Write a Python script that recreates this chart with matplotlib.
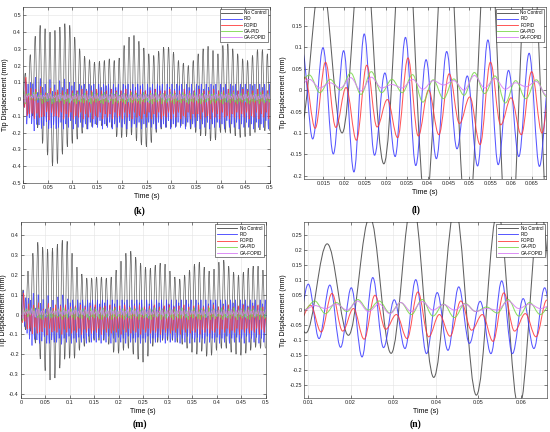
import numpy as np
import matplotlib
matplotlib.use('Agg')
from matplotlib import pyplot as plt
from matplotlib.path import Path
from matplotlib.patches import PathPatch
from matplotlib.lines import Line2D

plt.rcParams['font.family'] = ['Liberation Sans', 'DejaVu Sans']

labels = ['No Control', 'PID', 'FOPID', 'GA-PID', 'GA-FOPID']
colors = ['#444444', '#3a3aff', '#ff3a3a', '#7ad84a', '#d77cf5']

# ---------------- case 1 : panels (k) and (l) ----------------
# No Control: peaks at 0.0045 + 0.01*i, troughs at 0.0095 + 0.01*i
nc1_peak = [0.155, 0.265, 0.375, 0.44, 0.42, 0.40, 0.41, 0.43, 0.45, 0.44,
            0.37, 0.30, 0.255, 0.235, 0.22, 0.225, 0.23, 0.24, 0.23, 0.245,
            0.32, 0.37, 0.38, 0.345, 0.305, 0.27, 0.26, 0.285, 0.31, 0.31,
            0.28, 0.23, 0.215, 0.20, 0.23, 0.27, 0.30, 0.315, 0.29, 0.27,
            0.32, 0.33, 0.30, 0.27, 0.24, 0.23, 0.26, 0.295, 0.295, 0.27]
nc1_trough = [-0.09, -0.10, -0.172, -0.265, -0.335, -0.40, -0.385, -0.33, -0.285, -0.265,
              -0.24, -0.205, -0.18, -0.165, -0.155, -0.16, -0.16, -0.17, -0.225, -0.23,
              -0.225, -0.215, -0.25, -0.275, -0.285, -0.26, -0.20, -0.18, -0.17, -0.17,
              -0.165, -0.16, -0.165, -0.18, -0.20, -0.22, -0.22, -0.25, -0.245, -0.20,
              -0.20, -0.205, -0.22, -0.23, -0.225, -0.22, -0.20, -0.185, -0.19, -0.19]

pid1_peak = [0.0, 0.12, 0.09, 0.099, 0.092, 0.131, 0.040, 0.123, 0.071, 0.090,
             0.033, 0.117, 0.046, 0.086, 0.04,
             0.11, 0.07, 0.12, 0.06, 0.10, 0.08, 0.10, 0.05, 0.09, 0.08,
             0.09, 0.06, 0.09, 0.08, 0.09, 0.05, 0.09, 0.07, 0.09, 0.08,
             0.09, 0.06, 0.09, 0.07, 0.09, 0.05, 0.09, 0.08, 0.09, 0.06,
             0.09, 0.07, 0.09, 0.08, 0.09, 0.05, 0.09, 0.07, 0.09, 0.06,
             0.09, 0.08, 0.09, 0.05, 0.09, 0.07, 0.09, 0.06, 0.09, 0.08,
             0.09, 0.06, 0.09, 0.07, 0.09, 0.05, 0.09, 0.08, 0.09, 0.06,
             0.09, 0.07, 0.09, 0.08, 0.09, 0.05, 0.09, 0.07, 0.09, 0.06,
             0.09, 0.08, 0.09, 0.05, 0.09, 0.07, 0.09, 0.06, 0.09, 0.08,
             0.09, 0.06, 0.09, 0.07, 0.09, 0.05, 0.09, 0.08, 0.09, 0.06]
pid1_trough = [-0.05, -0.15, -0.114, -0.149, -0.191, -0.152, -0.155, -0.176, -0.16, -0.137,
               -0.177, -0.174, -0.155, -0.178,
               -0.17, -0.14, -0.18, -0.15, -0.17, -0.13, -0.18, -0.15, -0.17, -0.14,
               -0.17, -0.15, -0.18, -0.14, -0.17, -0.15, -0.17, -0.13, -0.18, -0.15,
               -0.17, -0.14, -0.18, -0.15, -0.17, -0.14, -0.17, -0.15, -0.18, -0.13,
               -0.17, -0.15, -0.17, -0.14, -0.18, -0.15, -0.17, -0.14, -0.17, -0.15,
               -0.18, -0.14, -0.17, -0.15, -0.17, -0.13, -0.18, -0.15, -0.17, -0.14,
               -0.17, -0.15, -0.18, -0.14, -0.17, -0.15, -0.17, -0.13, -0.18, -0.15,
               -0.17, -0.14, -0.18, -0.15, -0.17, -0.14, -0.17, -0.15, -0.18, -0.13,
               -0.17, -0.15, -0.17, -0.14, -0.18, -0.15, -0.17, -0.14, -0.17, -0.15,
               -0.18, -0.14, -0.17, -0.15, -0.17, -0.13, -0.18, -0.15, -0.17, -0.14]

fopid1_peak = [0.0, 0.13, 0.03, 0.065, 0.006, 0.058, -0.022, 0.075, 0.0, 0.038,
               -0.016, 0.065, -0.018, 0.043, 0.055,
               -0.01, 0.05, 0.00, 0.06, -0.02, 0.05, 0.01, 0.05, -0.01, 0.06,
               0.00, 0.05, -0.02, 0.05, 0.01, 0.06, -0.01, 0.05, 0.00, 0.05,
               -0.02, 0.06, 0.01, 0.05, -0.01, 0.05, 0.00, 0.06, -0.02, 0.05,
               0.01, 0.05, -0.01, 0.06, 0.00, 0.05, -0.02, 0.05, 0.01, 0.06,
               -0.01, 0.05, 0.00, 0.05, -0.02, 0.06, 0.01, 0.05, -0.01, 0.05,
               0.00, 0.06, -0.02, 0.05, 0.01, 0.05, -0.01, 0.06, 0.00, 0.05,
               -0.02, 0.05, 0.01, 0.06, -0.01, 0.05, 0.00, 0.05, -0.02, 0.06,
               0.01, 0.05, -0.01, 0.05, 0.00, 0.06, -0.02, 0.05, 0.01, 0.05,
               -0.01, 0.06, 0.00, 0.05, -0.02, 0.05, 0.01, 0.06, -0.01, 0.05]
fopid1_trough = [-0.05, -0.10, -0.089, -0.087, -0.117, -0.086, -0.111, -0.107, -0.104, -0.078,
                 -0.127, -0.081, -0.104, -0.10,
                 -0.11, -0.08, -0.12, -0.09, -0.11, -0.08, -0.12, -0.10, -0.11, -0.08,
                 -0.12, -0.09, -0.11, -0.08, -0.12, -0.10, -0.11, -0.08, -0.12, -0.09,
                 -0.11, -0.09, -0.12, -0.08, -0.11, -0.10, -0.12, -0.08, -0.11, -0.09,
                 -0.12, -0.08, -0.11, -0.10, -0.12, -0.09, -0.11, -0.08, -0.12, -0.09,
                 -0.11, -0.08, -0.12, -0.10, -0.11, -0.08, -0.12, -0.09, -0.11, -0.08,
                 -0.12, -0.10, -0.11, -0.08, -0.12, -0.09, -0.11, -0.09, -0.12, -0.08,
                 -0.11, -0.10, -0.12, -0.08, -0.11, -0.09, -0.12, -0.08, -0.11, -0.10,
                 -0.12, -0.09, -0.11, -0.08, -0.12, -0.09, -0.11, -0.08, -0.12, -0.10,
                 -0.11, -0.08, -0.12, -0.09, -0.11, -0.08, -0.12, -0.10, -0.11, -0.09]

gapid1_peak = [0.05, 0.03, 0.035, 0.025, 0.040, 0.043, 0.025, 0.036, 0.024, 0.026,
               0.041, 0.033, 0.022, 0.024,
               0.03, 0.035, 0.025, 0.04, 0.03, 0.025, 0.035, 0.03, 0.04, 0.025,
               0.03, 0.035, 0.03, 0.025, 0.04, 0.03, 0.035, 0.025, 0.03, 0.04,
               0.03, 0.025, 0.035, 0.03, 0.04, 0.025, 0.03, 0.035, 0.03, 0.025,
               0.04, 0.03, 0.035, 0.025, 0.03, 0.04, 0.03, 0.025, 0.035, 0.03,
               0.04, 0.025, 0.03, 0.035, 0.03, 0.025, 0.04, 0.03, 0.035, 0.025,
               0.03, 0.04, 0.03, 0.025, 0.035, 0.03, 0.04, 0.025, 0.03, 0.035,
               0.03, 0.025, 0.04, 0.03, 0.035, 0.025, 0.03, 0.04, 0.03, 0.025,
               0.035, 0.03, 0.04, 0.025, 0.03, 0.035, 0.03, 0.025, 0.04, 0.03,
               0.035, 0.025, 0.03, 0.04, 0.03, 0.025, 0.035, 0.03, 0.04, 0.025]
gapid1_trough = [-0.03, 0.02, -0.006, 0.0, -0.01, -0.006, -0.006, -0.028, -0.02, -0.012,
                 -0.008, -0.03, -0.02, -0.015,
                 -0.02, -0.01, -0.03, -0.015, -0.025, -0.01, -0.02, -0.03, -0.015, -0.02,
                 -0.025, -0.01, -0.02, -0.03, -0.015, -0.02, -0.01, -0.025, -0.03, -0.015,
                 -0.02, -0.01, -0.03, -0.015, -0.025, -0.01, -0.02, -0.03, -0.015, -0.02,
                 -0.025, -0.01, -0.02, -0.03, -0.015, -0.02, -0.01, -0.025, -0.03, -0.015,
                 -0.02, -0.01, -0.03, -0.015, -0.025, -0.01, -0.02, -0.03, -0.015, -0.02,
                 -0.025, -0.01, -0.02, -0.03, -0.015, -0.02, -0.01, -0.025, -0.03, -0.015,
                 -0.02, -0.01, -0.03, -0.015, -0.025, -0.01, -0.02, -0.03, -0.015, -0.02,
                 -0.025, -0.01, -0.02, -0.03, -0.015, -0.02, -0.01, -0.025, -0.03, -0.015,
                 -0.02, -0.01, -0.03, -0.015, -0.025, -0.01, -0.02, -0.03, -0.015, -0.02]

gafopid1_peak = [0.03, 0.02, 0.025, 0.017, 0.029, 0.030, 0.013, 0.025, 0.022, 0.022,
                 0.034, 0.027, 0.017, 0.02,
                 0.025, 0.03, 0.02, 0.028, 0.022, 0.03, 0.018, 0.025, 0.03, 0.02,
                 0.028, 0.022, 0.03, 0.025, 0.018, 0.03, 0.022, 0.028, 0.02, 0.025,
                 0.03, 0.02, 0.028, 0.022, 0.03, 0.018, 0.025, 0.03, 0.02, 0.028,
                 0.022, 0.03, 0.025, 0.018, 0.03, 0.022, 0.028, 0.02, 0.025, 0.03,
                 0.02, 0.028, 0.022, 0.03, 0.018, 0.025, 0.03, 0.02, 0.028, 0.022,
                 0.03, 0.025, 0.018, 0.03, 0.022, 0.028, 0.02, 0.025, 0.03, 0.02,
                 0.028, 0.022, 0.03, 0.018, 0.025, 0.03, 0.02, 0.028, 0.022, 0.03,
                 0.025, 0.018, 0.03, 0.022, 0.028, 0.02, 0.025, 0.03, 0.02, 0.028,
                 0.022, 0.03, 0.018, 0.025, 0.03, 0.02, 0.028, 0.022, 0.03, 0.025]
gafopid1_trough = [-0.02, 0.01, 0.005, 0.005, -0.002, 0.005, 0.005, 0.002, 0.012, 0.0,
                   0.005, 0.002, 0.008, -0.012,
                   0.0, 0.005, -0.005, 0.002, 0.006, -0.008, 0.0, 0.004, -0.005, 0.003,
                   0.006, -0.006, 0.0, 0.005, -0.008, 0.002, 0.004, -0.005, 0.0, 0.006,
                   -0.006, 0.003, 0.0, 0.005, -0.008, 0.002, 0.004, -0.005, 0.0, 0.006,
                   -0.006, 0.003, 0.0, 0.005, -0.005, 0.002, 0.006, -0.008, 0.0, 0.004,
                   -0.005, 0.003, 0.006, -0.006, 0.0, 0.005, -0.008, 0.002, 0.004, -0.005,
                   0.0, 0.006, -0.006, 0.003, 0.0, 0.005, -0.008, 0.002, 0.004, -0.005,
                   0.0, 0.006, -0.006, 0.003, 0.0, 0.005, -0.005, 0.002, 0.006, -0.008,
                   0.0, 0.004, -0.005, 0.003, 0.006, -0.006, 0.0, 0.005, -0.008, 0.002,
                   0.004, -0.005, 0.0, 0.006, -0.006, 0.003, 0.0, 0.005, -0.005, 0.002]

# ---------------- case 2 : panels (m) and (n) ----------------
nc2_peak = [0.125, 0.22, 0.31, 0.365, 0.34, 0.33, 0.335, 0.355, 0.375, 0.37,
            0.31, 0.24, 0.205, 0.185, 0.185, 0.19, 0.19, 0.185, 0.19, 0.225,
            0.27, 0.31, 0.32, 0.29, 0.26, 0.24, 0.235, 0.25, 0.26, 0.255,
            0.22, 0.19, 0.18, 0.20, 0.225, 0.255, 0.265, 0.24, 0.22, 0.23,
            0.265, 0.275, 0.245, 0.215, 0.20, 0.215, 0.235, 0.245, 0.245, 0.225]
nc2_trough = [-0.076, -0.084, -0.144, -0.224, -0.283, -0.33, -0.32, -0.27, -0.225, -0.22,
              -0.22, -0.18, -0.16, -0.14, -0.13, -0.13, -0.13, -0.15, -0.19, -0.195,
              -0.18, -0.17, -0.20, -0.225, -0.24, -0.21, -0.16, -0.14, -0.13, -0.13,
              -0.13, -0.14, -0.15, -0.17, -0.19, -0.20, -0.185, -0.21, -0.205, -0.18,
              -0.17, -0.17, -0.19, -0.20, -0.205, -0.195, -0.18, -0.165, -0.17, -0.17]

pid2_peak = [0.0, 0.12, 0.086, 0.083, 0.074, 0.108, 0.034, 0.101, 0.058, 0.077,
             0.029, 0.097, 0.038, 0.074, 0.03,
             0.09, 0.05, 0.1, 0.045, 0.08, 0.06, 0.075, 0.04, 0.075, 0.06,
             0.075, 0.045, 0.075, 0.06, 0.075, 0.04, 0.075, 0.055, 0.075, 0.06,
             0.075, 0.045, 0.075, 0.055, 0.075, 0.04, 0.075, 0.06, 0.075, 0.045,
             0.075, 0.055, 0.075, 0.06, 0.075, 0.04, 0.075, 0.055, 0.075, 0.045,
             0.075, 0.06, 0.075, 0.04, 0.075, 0.055, 0.075, 0.045, 0.075, 0.06,
             0.075, 0.045, 0.075, 0.055, 0.075, 0.04, 0.075, 0.06, 0.075, 0.045,
             0.075, 0.055, 0.075, 0.06, 0.075, 0.04, 0.075, 0.055, 0.075, 0.045,
             0.075, 0.06, 0.075, 0.04, 0.075, 0.055, 0.075, 0.045, 0.075, 0.06,
             0.075, 0.045, 0.075, 0.055, 0.075, 0.04, 0.075, 0.06, 0.075, 0.045,
             0.075, 0.055, 0.075, 0.06, 0.075, 0.04, 0.075, 0.055, 0.075, 0.045]
pid2_trough = [-0.03, -0.06, -0.095, -0.124, -0.156, -0.125, -0.128, -0.145, -0.134, -0.111,
               -0.145, -0.145, -0.128, -0.14,
               -0.14, -0.12, -0.15, -0.12, -0.14, -0.11, -0.145, -0.12, -0.14, -0.115,
               -0.14, -0.12, -0.145, -0.11, -0.14, -0.12, -0.14, -0.115, -0.145, -0.12,
               -0.14, -0.11, -0.145, -0.12, -0.14, -0.115, -0.14, -0.12, -0.145, -0.11,
               -0.14, -0.12, -0.14, -0.115, -0.145, -0.12, -0.14, -0.11, -0.145, -0.12,
               -0.14, -0.115, -0.14, -0.12, -0.145, -0.11, -0.14, -0.12, -0.14, -0.115,
               -0.145, -0.12, -0.14, -0.11, -0.145, -0.12, -0.14, -0.115, -0.14, -0.12,
               -0.145, -0.11, -0.14, -0.12, -0.14, -0.115, -0.145, -0.12, -0.14, -0.11,
               -0.145, -0.12, -0.14, -0.115, -0.14, -0.12, -0.145, -0.11, -0.14, -0.12,
               -0.14, -0.115, -0.145, -0.12, -0.14, -0.11, -0.145, -0.12, -0.14, -0.115,
               -0.14, -0.12, -0.145, -0.11, -0.14, -0.12, -0.14, -0.115, -0.145, -0.12]

fopid2_peak = [0.0, 0.11, 0.016, 0.055, 0.005, 0.049, -0.015, 0.06, -0.015, 0.03,
               -0.015, 0.057, -0.012, 0.033, 0.05,
               -0.01, 0.045, 0.0, 0.05, -0.015, 0.04, 0.005, 0.045, -0.01, 0.05,
               0.0, 0.04, -0.015, 0.045, 0.005, 0.05, -0.01, 0.04, 0.0, 0.045,
               -0.015, 0.05, 0.005, 0.04, -0.01, 0.045, 0.0, 0.05, -0.015, 0.04,
               0.005, 0.045, -0.01, 0.05, 0.0, 0.04, -0.015, 0.045, 0.005, 0.05,
               -0.01, 0.04, 0.0, 0.045, -0.015, 0.05, 0.005, 0.04, -0.01, 0.045,
               0.0, 0.05, -0.015, 0.04, 0.005, 0.045, -0.01, 0.05, 0.0, 0.04,
               -0.015, 0.045, 0.005, 0.05, -0.01, 0.04, 0.0, 0.045, -0.015, 0.05,
               0.005, 0.04, -0.01, 0.045, 0.0, 0.05, -0.015, 0.04, 0.005, 0.045,
               -0.01, 0.05, 0.0, 0.04, -0.015, 0.045, 0.005, 0.05, -0.01, 0.04,
               0.0, 0.045, -0.015, 0.05, 0.005, 0.04, -0.01, 0.045, 0.0, 0.05]
fopid2_trough = [-0.04, -0.035, -0.073, -0.07, -0.097, -0.064, -0.095, -0.089, -0.087, -0.067,
                 -0.104, -0.07, -0.089, -0.08,
                 -0.09, -0.07, -0.1, -0.075, -0.09, -0.07, -0.095, -0.08, -0.09, -0.07,
                 -0.1, -0.075, -0.09, -0.07, -0.095, -0.08, -0.09, -0.07, -0.1, -0.075,
                 -0.09, -0.07, -0.095, -0.08, -0.09, -0.07, -0.1, -0.075, -0.09, -0.07,
                 -0.095, -0.08, -0.09, -0.07, -0.1, -0.075, -0.09, -0.07, -0.095, -0.08,
                 -0.09, -0.07, -0.1, -0.075, -0.09, -0.07, -0.095, -0.08, -0.09, -0.07,
                 -0.1, -0.075, -0.09, -0.07, -0.095, -0.08, -0.09, -0.07, -0.1, -0.075,
                 -0.09, -0.07, -0.095, -0.08, -0.09, -0.07, -0.1, -0.075, -0.09, -0.07,
                 -0.095, -0.08, -0.09, -0.07, -0.1, -0.075, -0.09, -0.07, -0.095, -0.08,
                 -0.09, -0.07, -0.1, -0.075, -0.09, -0.07, -0.095, -0.08, -0.09, -0.07,
                 -0.1, -0.075, -0.09, -0.07, -0.095, -0.08, -0.09, -0.07, -0.1, -0.075]

gapid2_peak = [0.04, 0.02, 0.03, 0.025, 0.035, 0.03, 0.025, 0.035, 0.02, 0.022,
               0.01, 0.035, 0.025, 0.02,
               0.025, 0.03, 0.02, 0.035, 0.025, 0.02, 0.03, 0.025, 0.035, 0.02,
               0.025, 0.03, 0.025, 0.02, 0.035, 0.025, 0.03, 0.02, 0.025, 0.035,
               0.025, 0.02, 0.03, 0.025, 0.035, 0.02, 0.025, 0.03, 0.025, 0.02,
               0.035, 0.025, 0.03, 0.02, 0.025, 0.035, 0.025, 0.02, 0.03, 0.025,
               0.035, 0.02, 0.025, 0.03, 0.025, 0.02, 0.035, 0.025, 0.03, 0.02,
               0.025, 0.035, 0.025, 0.02, 0.03, 0.025, 0.035, 0.02, 0.025, 0.03,
               0.025, 0.02, 0.035, 0.025, 0.03, 0.02, 0.025, 0.035, 0.025, 0.02,
               0.03, 0.025, 0.035, 0.02, 0.025, 0.03, 0.025, 0.02, 0.035, 0.025,
               0.03, 0.02, 0.025, 0.035, 0.025, 0.02, 0.03, 0.025, 0.035, 0.02,
               0.025, 0.03, 0.025, 0.02, 0.035, 0.025, 0.03, 0.02, 0.025, 0.035]
gapid2_trough = [-0.03, 0.0, -0.012, -0.005, 0.0, -0.01, -0.015, -0.02, -0.025, -0.005,
                 -0.01, -0.02, -0.015, -0.01,
                 -0.015, -0.01, -0.025, -0.012, -0.02, -0.008, -0.015, -0.025, -0.012, -0.018,
                 -0.02, -0.008, -0.015, -0.025, -0.012, -0.018, -0.01, -0.02, -0.025, -0.012,
                 -0.015, -0.008, -0.025, -0.012, -0.02, -0.01, -0.015, -0.025, -0.012, -0.018,
                 -0.02, -0.008, -0.015, -0.025, -0.012, -0.018, -0.01, -0.02, -0.025, -0.012,
                 -0.015, -0.008, -0.025, -0.012, -0.02, -0.01, -0.015, -0.025, -0.012, -0.018,
                 -0.02, -0.008, -0.015, -0.025, -0.012, -0.018, -0.01, -0.02, -0.025, -0.012,
                 -0.015, -0.008, -0.025, -0.012, -0.02, -0.01, -0.015, -0.025, -0.012, -0.018,
                 -0.02, -0.008, -0.015, -0.025, -0.012, -0.018, -0.01, -0.02, -0.025, -0.012,
                 -0.015, -0.008, -0.025, -0.012, -0.02, -0.01, -0.015, -0.025, -0.012, -0.018,
                 -0.02, -0.008, -0.015, -0.025, -0.012, -0.018, -0.01, -0.02, -0.025, -0.012]

gafopid2_peak = [0.03, 0.015, 0.015, 0.02, 0.03, 0.02, 0.025, 0.028, 0.018, 0.02,
                 0.005, 0.03, 0.02, 0.015,
                 0.02, 0.025, 0.015, 0.022, 0.018, 0.025, 0.015, 0.02, 0.025, 0.018,
                 0.022, 0.015, 0.025, 0.02, 0.018, 0.025, 0.015, 0.022, 0.02, 0.025,
                 0.015, 0.02, 0.025, 0.018, 0.022, 0.015, 0.025, 0.02, 0.018, 0.025,
                 0.015, 0.022, 0.02, 0.025, 0.015, 0.02, 0.025, 0.018, 0.022, 0.015,
                 0.025, 0.02, 0.018, 0.025, 0.015, 0.022, 0.02, 0.025, 0.015, 0.02,
                 0.025, 0.018, 0.022, 0.015, 0.025, 0.02, 0.018, 0.025, 0.015, 0.022,
                 0.02, 0.025, 0.015, 0.02, 0.025, 0.018, 0.022, 0.015, 0.025, 0.02,
                 0.018, 0.025, 0.015, 0.022, 0.02, 0.025, 0.015, 0.02, 0.025, 0.018,
                 0.022, 0.015, 0.025, 0.02, 0.018, 0.025, 0.015, 0.022, 0.02, 0.025,
                 0.015, 0.02, 0.025, 0.018, 0.022, 0.015, 0.025, 0.02, 0.018, 0.025]
gafopid2_trough = [-0.02, 0.0, 0.005, 0.0, -0.005, -0.012, -0.005, 0.0, 0.0, -0.005,
                   0.0, 0.005, 0.005, 0.0,
                   -0.005, 0.002, -0.008, 0.0, 0.004, -0.006, 0.0, 0.003, -0.008, 0.002,
                   0.0, -0.005, 0.004, -0.006, 0.0, 0.002, -0.008, 0.003, 0.0, -0.005,
                   0.004, -0.006, 0.0, 0.002, -0.008, 0.003, 0.0, -0.005, 0.004, -0.006,
                   0.0, 0.002, -0.008, 0.003, 0.0, -0.005, 0.004, -0.006, 0.0, 0.002,
                   -0.008, 0.003, 0.0, -0.005, 0.004, -0.006, 0.0, 0.002, -0.008, 0.003,
                   0.0, -0.005, 0.004, -0.006, 0.0, 0.002, -0.008, 0.003, 0.0, -0.005,
                   0.004, -0.006, 0.0, 0.002, -0.008, 0.003, 0.0, -0.005, 0.004, -0.006,
                   0.0, 0.002, -0.008, 0.003, 0.0, -0.005, 0.004, -0.006, 0.0, 0.002,
                   -0.008, 0.003, 0.0, -0.005, 0.004, -0.006, 0.0, 0.002, -0.008, 0.003,
                   0.0, -0.005, 0.004, -0.006, 0.0, 0.002, -0.008, 0.003, 0.0, -0.005]

# half period and first extremum time of each trace
half1, half2 = 0.00247, 0.00252
nc_half, nc_t0 = 0.005, -0.0005


def interleave(peaks, troughs):
    out = []
    for p, q in zip(peaks, troughs):
        out += [p, q]
    return out


def extrema(t0, half, peaks, troughs, start=None):
    vals = interleave(peaks, troughs)
    if start is not None:
        vals = [start] + vals
    ts = t0 + half * np.arange(len(vals))
    return ts, vals


def wave_path(ts, vs):
    """smooth curve through successive extrema (cubic bezier, flat at each extremum)"""
    verts = [(ts[0], vs[0])]
    codes = [Path.MOVETO]
    for i in range(len(ts) - 1):
        dt = ts[i + 1] - ts[i]
        verts += [(ts[i] + 0.3642 * dt, vs[i]), (ts[i + 1] - 0.3642 * dt, vs[i + 1]), (ts[i + 1], vs[i + 1])]
        codes += [Path.CURVE4] * 3
    return Path(verts, codes)


case1 = [extrema(nc_t0, nc_half, nc1_peak, nc1_trough, start=0.0),
         extrema(0.0001, half1, pid1_peak, pid1_trough),
         extrema(0.0007, half1, fopid1_peak, fopid1_trough),
         extrema(0.0018, half1, gapid1_peak, gapid1_trough),
         extrema(0.0018, half1, gafopid1_peak, gafopid1_trough)]
case2 = [extrema(nc_t0, nc_half, nc2_peak, nc2_trough, start=0.0),
         extrema(0.0, half2, pid2_peak, pid2_trough),
         extrema(0.0005, half2, fopid2_peak, fopid2_trough),
         extrema(0.0015, half2, gapid2_peak, gapid2_trough),
         extrema(0.0015, half2, gafopid2_peak, gafopid2_trough)]


def fmt(v):
    s = ('%.3f' % v).rstrip('0').rstrip('.')
    return '0' if s in ('-0', '') else s


def panel(ax, data, lw, xlim, ylim, xticks, yticks):
    for (ts, vs), c in zip(data, colors):
        ax.add_patch(PathPatch(wave_path(ts, vs), fill=False, edgecolor=c, lw=lw, alpha=0.85))
    ax.set_xlim(*xlim)
    ax.set_ylim(*ylim)
    ax.set_xticks(xticks)
    ax.set_yticks(yticks)
    ax.set_xticklabels([fmt(v) for v in xticks])
    ax.set_yticklabels([fmt(v) for v in yticks])
    ax.grid(True, color='#e3e3e3', lw=0.4)
    ax.set_axisbelow(True)
    ax.tick_params(labelsize=4, direction='in', length=2, width=0.4, pad=1.5,
                   top=True, right=True, colors='#262626')
    for s in ax.spines.values():
        s.set_linewidth(0.4)
        s.set_color('#262626')
    ax.set_xlabel('Time (s)', fontsize=5, labelpad=2)
    ax.set_ylabel('Tip Displacement (mm)', fontsize=5, labelpad=1.5)
    handles = [Line2D([], [], color=c, lw=0.6) for c in colors]
    leg = ax.legend(handles, labels, loc='upper right', fontsize=3.3, handlelength=4.5,
                    labelspacing=0.25, borderpad=0.35, handletextpad=0.5, borderaxespad=0.4,
                    fancybox=False, framealpha=1, edgecolor='#262626')
    leg.get_frame().set_linewidth(0.4)


fig = plt.figure(figsize=(5.5, 4.32), dpi=100)
ax_k = fig.add_axes([0.042, 0.577, 0.449, 0.407])
ax_l = fig.add_axes([0.553, 0.586, 0.440, 0.398])
ax_m = fig.add_axes([0.038, 0.079, 0.445, 0.406])
ax_n = fig.add_axes([0.553, 0.079, 0.441, 0.406])

panel(ax_k, case1, 0.5, (0, 0.5), (-0.5, 0.55), np.arange(0, 0.501, 0.05),
      np.arange(-0.5, 0.501, 0.1))
panel(ax_l, case1, 0.75, (0.0104, 0.0684), (-0.207, 0.194), np.arange(0.015, 0.0651, 0.005),
      np.arange(-0.2, 0.151, 0.05))
panel(ax_m, case2, 0.5, (0, 0.5), (-0.42, 0.465), np.arange(0, 0.501, 0.05),
      np.arange(-0.4, 0.401, 0.1))
panel(ax_n, case2, 0.75, (0.0091, 0.066), (-0.292, 0.291), np.arange(0.01, 0.0601, 0.01),
      np.arange(-0.25, 0.251, 0.05))

cap = dict(fontsize=7, fontweight='bold', family='Liberation Serif', ha='center', va='center')
fig.text(140 / 550, 1 - 211 / 432, '(k)', **cap)
fig.text(416 / 550, 1 - 210 / 432, '(l)', **cap)
fig.text(140 / 550, 1 - 424 / 432, '(m)', **cap)
fig.text(416 / 550, 1 - 424 / 432, '(n)', **cap)

fig.savefig('out.png', dpi=100, facecolor='white')
